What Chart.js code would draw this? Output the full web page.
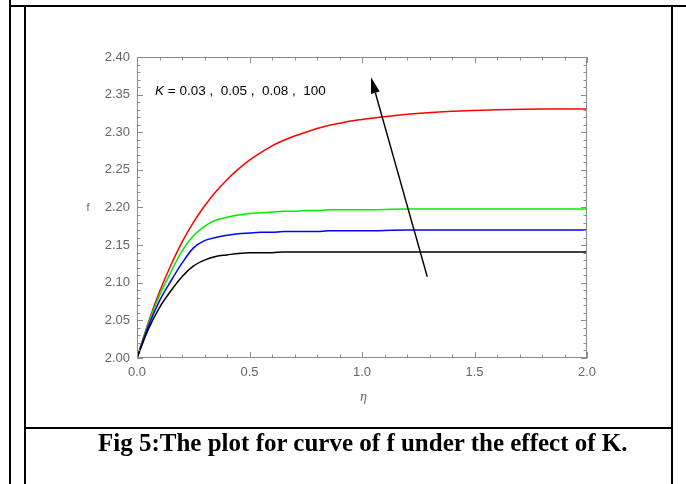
<!DOCTYPE html>
<html>
<head>
<meta charset="utf-8">
<script src="https://cdn.jsdelivr.net/npm/chart.js@4.4.1/dist/chart.umd.min.js"></script>
<style>
  body { margin: 0; background: #fff; }
  #wrap { position: relative; width: 686px; height: 484px; overflow: hidden; }
  #fchart { position: absolute; left: 0; top: 0; }
  .ln { position: absolute; background: #000; }
  #caption {
    position: absolute; left: 98px; top: 429px;
    font-family: "Liberation Serif", "Times New Roman", serif;
    font-weight: bold; font-size: 25px; white-space: nowrap; color: #000;
  }
</style>
</head>
<body>
<div id="wrap">
  <canvas id="fchart" width="686" height="484"></canvas>
  <div class="ln" style="left:9px;top:5px;width:677px;height:2px"></div>
  <div class="ln" style="left:9px;top:0;width:2px;height:484px"></div>
  <div class="ln" style="left:24px;top:7px;width:2px;height:477px"></div>
  <div class="ln" style="left:671px;top:7px;width:2px;height:477px"></div>
  <div class="ln" style="left:26px;top:427px;width:645px;height:2px"></div>
  <div id="caption">Fig 5:The plot for curve of f under the effect of K.</div>
</div>
<script>
// eta values and f for K = 0.03, 0.05, 0.08, 100
const eta    = [0, 0.05, 0.1, 0.15, 0.2, 0.25, 0.3, 0.35, 0.4, 0.45, 0.5, 0.55, 0.6, 0.65, 0.7, 0.75, 0.8, 0.85, 0.9, 0.95, 1.0, 1.2, 1.4, 1.6, 1.8, 2.0];
const fRed   = [2.000, 2.047, 2.088, 2.123, 2.154, 2.180, 2.202, 2.221, 2.237, 2.251, 2.263, 2.273, 2.282, 2.289, 2.295, 2.300, 2.305, 2.309, 2.312, 2.315, 2.317, 2.324, 2.328, 2.330, 2.331, 2.331];
const fGreen = [2.000, 2.045, 2.083, 2.114, 2.142, 2.162, 2.175, 2.183, 2.187, 2.190, 2.192, 2.193, 2.194, 2.195, 2.195, 2.196, 2.196, 2.197, 2.197, 2.197, 2.197, 2.198, 2.198, 2.198, 2.198, 2.198];
const fBlue  = [2.000, 2.042, 2.076, 2.102, 2.126, 2.146, 2.156, 2.160, 2.163, 2.165, 2.166, 2.167, 2.167, 2.168, 2.168, 2.168, 2.168, 2.169, 2.169, 2.169, 2.169, 2.170, 2.170, 2.170, 2.170, 2.170];
const fBlack = [2.000, 2.038, 2.067, 2.089, 2.108, 2.122, 2.130, 2.135, 2.137, 2.139, 2.140, 2.140, 2.140, 2.141, 2.141, 2.141, 2.141, 2.141, 2.141, 2.141, 2.141, 2.141, 2.141, 2.141, 2.141, 2.141];

const xTicks = [0, 0.5, 1.0, 1.5, 2.0];
const yTicks = [2.00, 2.05, 2.10, 2.15, 2.20, 2.25, 2.30, 2.35, 2.40];
const kLabel = '= 0.03 ,  0.05 ,  0.08 ,  100';
// arrow in data coords: tail -> tip
const arrowFrom = [1.29, 2.108];
const arrowTo   = [1.04, 2.373];

const frameColor = '#8c8c8c';
const labelColor = '#666666';
const sansFont = '"Liberation Sans", Arial, sans-serif';

function series(vals, color) {
  return {
    data: eta.map((x, i) => ({ x: x, y: vals[i] })),
    borderColor: color,
    borderWidth: 1.5,
    pointRadius: 0,
    fill: false,
    cubicInterpolationMode: 'monotone'
  };
}

const frameTicks = {
  id: 'frameTicks',
  afterDatasetsDraw(chart) {
    const ctx = chart.ctx;
    const a = chart.chartArea;
    const xs = chart.scales.x, ys = chart.scales.y;
    ctx.save();
    ctx.strokeStyle = frameColor;
    ctx.lineWidth = 1;
    ctx.strokeRect(a.left + 0.5, a.top + 0.5, a.right - a.left - 1, a.bottom - a.top - 1);
    ctx.beginPath();
    for (let i = 0; i <= 20; i++) {
      const px = Math.round(xs.getPixelForValue(i / 10)) + 0.5;
      const len = (i % 5 === 0) ? 6 : 3.5;
      ctx.moveTo(px, a.bottom); ctx.lineTo(px, a.bottom - len);
      ctx.moveTo(px, a.top); ctx.lineTo(px, a.top + len);
    }
    for (let i = 0; i <= 40; i++) {
      const py = Math.round(ys.getPixelForValue(2 + i / 100)) + 0.5;
      const len = (i % 5 === 0) ? 6 : 3.5;
      ctx.moveTo(a.left, py); ctx.lineTo(a.left + len, py);
      ctx.moveTo(a.right, py); ctx.lineTo(a.right - len, py);
    }
    ctx.stroke();

    // axis titles
    ctx.fillStyle = labelColor;
    ctx.textAlign = 'center';
    ctx.textBaseline = 'middle';
    ctx.font = '11px ' + sansFont;
    ctx.fillText('f', a.left - 49, (a.top + a.bottom) / 2);
    ctx.font = 'italic 12px "DejaVu Serif", serif';
    ctx.fillText('\u03b7', (a.left + a.right) / 2 + 1, a.bottom + 40);

    // K label
    ctx.fillStyle = '#000';
    ctx.textAlign = 'left';
    ctx.font = 'italic 13.5px ' + sansFont;
    const kx = xs.getPixelForValue(0.08), ky = ys.getPixelForValue(2.354);
    ctx.fillText('K', kx, ky);
    const kw = ctx.measureText('K').width;
    ctx.font = '13.5px ' + sansFont;
    ctx.fillText(' ' + kLabel, kx + kw, ky);

    // arrow
    const x0 = xs.getPixelForValue(arrowFrom[0]), y0 = ys.getPixelForValue(arrowFrom[1]);
    const x1 = xs.getPixelForValue(arrowTo[0]), y1 = ys.getPixelForValue(arrowTo[1]);
    const ang = Math.atan2(y1 - y0, x1 - x0);
    const hl = 16, hw = 4.5;
    const bx = x1 - hl * Math.cos(ang), by = y1 - hl * Math.sin(ang);
    ctx.strokeStyle = '#000';
    ctx.lineWidth = 1.4;
    ctx.beginPath();
    ctx.moveTo(x0, y0); ctx.lineTo(bx, by);
    ctx.stroke();
    ctx.fillStyle = '#000';
    ctx.beginPath();
    ctx.moveTo(x1, y1);
    ctx.lineTo(bx + hw * Math.sin(ang), by - hw * Math.cos(ang));
    ctx.lineTo(bx - hw * Math.sin(ang), by + hw * Math.cos(ang));
    ctx.closePath();
    ctx.fill();
    ctx.restore();
  }
};

new Chart(document.getElementById('fchart').getContext('2d'), {
  type: 'line',
  data: {
    datasets: [
      series(fBlack, '#000000'),
      series(fBlue, '#0000ff'),
      series(fGreen, '#00ee00'),
      series(fRed, '#ff0000')
    ]
  },
  options: {
    responsive: false,
    animation: false,
    layout: { padding: { left: 0, right: 99, top: 57, bottom: 76 } },
    plugins: { legend: { display: false }, tooltip: { enabled: false } },
    scales: {
      x: {
        type: 'linear', min: 0, max: 2,
        afterFit: s => { s.height = 50; },
        afterBuildTicks: s => { s.ticks = xTicks.map(v => ({ value: v })); },
        grid: { display: false, drawTicks: false },
        border: { display: false },
        ticks: {
          callback: v => v.toFixed(1),
          color: labelColor, padding: 7, maxRotation: 0,
          font: { family: sansFont, size: 13 }
        }
      },
      y: {
        type: 'linear', min: 2.0, max: 2.4,
        afterFit: s => { s.width = 137; },
        afterBuildTicks: s => { s.ticks = yTicks.map(v => ({ value: v })); },
        grid: { display: false, drawTicks: false },
        border: { display: false },
        ticks: {
          callback: v => v.toFixed(2),
          color: labelColor, padding: 7,
          font: { family: sansFont, size: 13 }
        }
      }
    }
  },
  plugins: [frameTicks]
});
</script>
</body>
</html>
